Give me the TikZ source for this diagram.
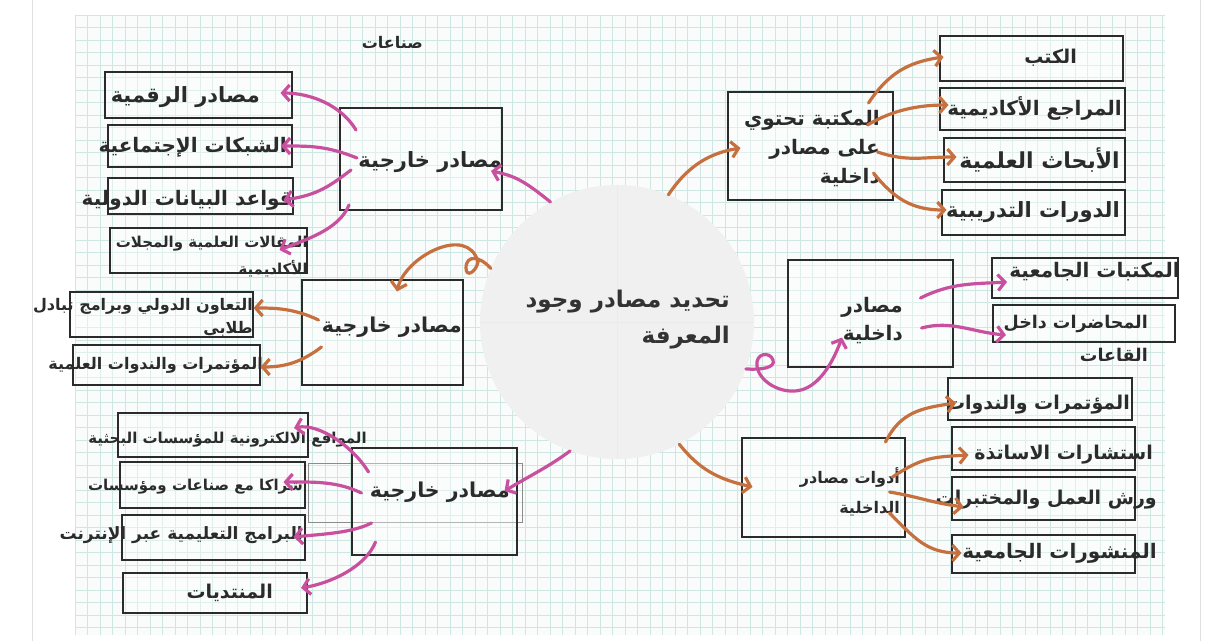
\documentclass[tikz,border=0pt]{standalone}
\usepackage{fontspec}
\TeXXeTstate=1
\newfontfamily\arabicfont[Script=Arabic]{DejaVu Sans}
\usetikzlibrary{arrows.meta,calc}
\definecolor{pinkc}{HTML}{C8509E}
\definecolor{orangec}{HTML}{C7703F}
\definecolor{gridc}{HTML}{CFE7E2}
\definecolor{inkc}{HTML}{2B2B2B}
\definecolor{circc}{HTML}{F0F0F0}
\newcommand{\ar}[1]{{\arabicfont\bfseries\beginR #1\endR}}
\newcommand{\fs}[2]{\fontsize{#1}{#2}\selectfont}
\tikzset{
  bx/.style={draw=inkc, line width=2pt, inner sep=0pt, fill=white, fill opacity=0.35, text opacity=1},
  tx/.style={inner sep=0pt, text=inkc, anchor=east, align=right, font=\fs{20}{24}},
  pk/.style={draw=pinkc, line width=3.2pt, line cap=round, -{Straight Barb[length=7pt,width=16pt]}},
  og/.style={draw=orangec, line width=3.2pt, line cap=round, -{Straight Barb[length=7pt,width=16pt]}},
}
\begin{document}
\begin{tikzpicture}[x=1pt,y=-1pt]
\useasboundingbox (0,0) rectangle (1206,641);
\fill[white] (0,0) rectangle (1206,641);
\draw[black!12, line width=1pt] (32,0) -- (32,641);
\draw[black!12, line width=1pt] (1200,0) -- (1200,641);
% grid paper
\fill[gridc!12] (75,15) rectangle (1165,635);
\foreach \i in {0,...,87} \draw[gridc, line width=0.6pt] (75+\i*12.5,15) -- (75+\i*12.5,635);
\foreach \j in {0,...,49} \draw[gridc, line width=0.6pt] (75,15+\j*12.5) -- (1165,15+\j*12.5);

% centre
\node[circle, fill=circc, minimum size=274pt, inner sep=0pt] (C) at (617,322) {};
\draw[black!8, line width=0.8pt] (C.north) -- (C.south);
\draw[black!8, line width=0.8pt] (C.west) -- (C.east);
\node[tx, font=\fs{23}{36}, text=black!80] (Ct) at (730,320) {\ar{تحديد مصادر وجود}\\\ar{المعرفة}};

% ---- top-left group
\node[bx, minimum width=162pt, minimum height=102pt] (tl) at (421,159) {};
\node[bx, minimum width=187pt, minimum height=46pt] (tl1) at (198,95) {};
\node[bx, minimum width=184pt, minimum height=42pt] (tl2) at (200,146) {};
\node[bx, minimum width=185pt, minimum height=36pt] (tl3) at (200,196) {};
\node[bx, minimum width=197pt, minimum height=45pt] (tl4) at (208,250) {};
\node[tx, font=\fs{21}{24}] (tlT) at (502,162) {\ar{مصادر خارجية}};
\node[tx, font=\fs{21}{24}] (tl1T) at (260,97) {\ar{مصادر الرقمية}};
\node[tx] (tl2T) at (287,147) {\ar{الشبكات الإجتماعية}};
\node[tx] (tl3T) at (293,200) {\ar{قواعد البيانات الدولية}};
\node[tx, font=\fs{15}{27}] (tl4T) at (308,257) {\ar{المقالات العلمية والمجلات}\\\ar{الأكاديمية}};
\node[tx, font=\fs{16}{18}] (topT) at (423,42) {\ar{صناعات}};

% ---- middle-left group
\node[bx, minimum width=161pt, minimum height=105pt] (ml) at (382,332) {};
\node[bx, minimum width=183pt, minimum height=45pt] (ml1) at (161,314) {};
\node[bx, minimum width=187pt, minimum height=40pt] (ml2) at (166,365) {};
\node[tx, font=\fs{20.5}{24}] (mlT) at (462,327) {\ar{مصادر خارجية}};
\node[tx, font=\fs{16}{23}] (ml1T) at (253,318) {\ar{التعاون الدولي وبرامج تبادل}\\\ar{طلابي}};
\node[tx, font=\fs{16}{19}] (ml2T) at (263,365) {\ar{المؤتمرات والندوات العلمية}};

% ---- bottom-left group
\draw[black!45, line width=0.8pt] (308,463) rectangle (522,522);
\node[bx, minimum width=165pt, minimum height=107pt] (bl) at (434,501) {};
\node[bx, minimum width=190pt, minimum height=44pt] (bl1) at (213,435) {};
\node[bx, minimum width=185pt, minimum height=46pt] (bl2) at (212,485) {};
\node[bx, minimum width=183pt, minimum height=45pt] (bl3) at (213,537) {};
\node[bx, minimum width=184pt, minimum height=40pt] (bl4) at (215,593) {};
\node[tx, font=\fs{20.5}{24}] (blT) at (510,492) {\ar{مصادر خارجية}};
\node[tx, font=\fs{15}{18}] (bl1T) at (367,440) {\ar{المواقع الالكترونية للمؤسسات البحثية}};
\node[tx, font=\fs{15}{18}] (bl2T) at (303,487) {\ar{شراكا مع صناعات ومؤسسات}};
\node[tx, font=\fs{17}{20}] (bl3T) at (303,535) {\ar{البرامج التعليمية عبر الإنترنت}};
\node[tx, font=\fs{19}{22}] (bl4T) at (273,593) {\ar{المنتديات}};

% ---- top-right group
\node[bx, minimum width=165pt, minimum height=108pt] (tr) at (810,146) {};
\node[bx, minimum width=183pt, minimum height=45pt] (tr1) at (1031,58) {};
\node[bx, minimum width=185pt, minimum height=42pt] (tr2) at (1032,109) {};
\node[bx, minimum width=181pt, minimum height=44pt] (tr3) at (1034,160) {};
\node[bx, minimum width=183pt, minimum height=45pt] (tr4) at (1033,212) {};
\node[tx, font=\fs{20}{29}] (trT) at (880,149) {\ar{المكتبة تحتوي}\\\ar{على مصادر}\\\ar{داخلية}};
\node[tx, font=\fs{19}{22}] (tr1T) at (1077,58) {\ar{الكتب}};
\node[tx] (tr2T) at (1122,108) {\ar{المراجع الأكاديمية}};
\node[tx, font=\fs{22}{25}] (tr3T) at (1120,160) {\ar{الأبحاث العلمية}};
\node[tx, font=\fs{21}{24}] (tr4T) at (1120,212) {\ar{الدورات التدريبية}};

% ---- middle-right group
\node[bx, minimum width=165pt, minimum height=107pt] (mr) at (870,313) {};
\node[bx, minimum width=186pt, minimum height=40pt] (mr1) at (1085,278) {};
\node[bx, minimum width=182pt, minimum height=37pt] (mr2) at (1084,323) {};
\node[tx, font=\fs{20}{28}] (mrT) at (903,321) {\ar{مصادر}\\\ar{داخلية}};
\node[tx] (mr1T) at (1180,272) {\ar{المكتبات الجامعية}};
\node[tx, font=\fs{17.5}{33}] (mr2T) at (1148,338) {\ar{المحاضرات داخل}\\\ar{القاعات}};

% ---- bottom-right group
\node[bx, minimum width=163pt, minimum height=99pt] (br) at (823,487) {};
\node[bx, minimum width=184pt, minimum height=42pt] (br1) at (1040,399) {};
\node[bx, minimum width=183pt, minimum height=43pt] (br2) at (1043,448) {};
\node[bx, minimum width=183pt, minimum height=43pt] (br3) at (1043,498) {};
\node[bx, minimum width=183pt, minimum height=38pt] (br4) at (1043,554) {};
\node[tx, font=\fs{16}{30}] (brT) at (900,492) {\ar{أدوات مصادر}\\\ar{الداخلية}};
\node[tx, font=\fs{19}{22}] (br1T) at (1130,405) {\ar{المؤتمرات والندوات}};
\node[tx, font=\fs{19}{22}] (br2T) at (1153,455) {\ar{استشارات الاساتذة}};
\node[tx, font=\fs{19}{22}] (br3T) at (1157,500) {\ar{ورش العمل والمختبرات}};
\node[tx] (br4T) at (1157,553) {\ar{المنشورات الجامعية}};

% ---- connectors: centre to hubs
\draw[pk] (C.119) .. controls +(-25,-20) and +(25,5) .. ($(tl.east)+(-12,12)$);
\draw[og] (C.157) .. controls +(-10,-12) and +(0,-14) .. (466,268)
   .. controls +(0,10) and +(-2,10) .. (478,262)
   .. controls +(-10,-38) and +(8,-35) .. ($(ml.north)+(15,13)$);
\draw[pk] (C.250) .. controls +(-20,15) and +(25,-15) .. ($(bl.east)+(-13,-10)$);
\draw[og] (C.68) .. controls +(20,-30) and +(-30,5) .. ($(tr.west)+(14,2)$);
\draw[pk] (C.-20) .. controls (760,370) and (776,368) .. (773,360)
   .. controls (770,351) and (755,353) .. (757,366)
   .. controls (759,382) and (782,395) .. (801,390)
   .. controls (820,385) and (833,362) .. ($(mr.south)+(-28,-30)$);
\draw[og] (C.-63) .. controls +(20,25) and +(-35,-8) .. ($(br.west)+(12,0)$);

% ---- hubs to leaves
\draw[pk] ($(tl.west)+(17,-29)$) .. controls +(-15,-25) and +(30,0) .. ($(tl1.east)+(-12,-2)$);
\draw[pk] ($(tl.west)+(18,-1)$) .. controls +(-30,-12) and +(30,0) .. ($(tl2.east)+(-12,0)$);
\draw[pk] ($(tl.west)+(12,11)$) .. controls +(-20,15) and +(35,-5) .. ($(tl3.east)+(-10,4)$);
\draw[pk] ($(tl.west)+(10,46)$) .. controls +(-10,25) and +(25,-10) .. ($(tl4.east)+(-28,0)$);

\draw[og] ($(ml.west)+(18,-12)$) .. controls +(-25,-12) and +(20,0) .. ($(ml1.east)+(0,-6)$);
\draw[og] ($(ml.west)+(21,15)$) .. controls +(-20,15) and +(25,0) .. ($(ml2.east)+(0,2)$);

\draw[pk] ($(bl.west)+(18,-29)$) .. controls +(-15,-25) and +(25,-5) .. ($(bl1.east)+(-15,-7)$);
\draw[pk] ($(bl.west)+(11,-8)$) .. controls +(-25,-12) and +(30,0) .. ($(bl2.east)+(-22,-3)$);
\draw[pk] ($(bl.west)+(21,22)$) .. controls +(-20,10) and +(30,-3) .. ($(bl3.east)+(-12,0)$);
\draw[pk] ($(bl.west)+(25,41)$) .. controls +(-10,25) and +(30,-5) .. ($(bl4.east)+(-7,-5)$);

\draw[og] ($(tr.east)+(-25,-43)$) .. controls +(20,-30) and +(-35,5) .. ($(tr1.west)+(5,-1)$);
\draw[og] ($(tr.east)+(-26,-21)$) .. controls +(25,-15) and +(-30,0) .. ($(tr2.west)+(10,-4)$);
\draw[og] ($(tr.east)+(-16,6)$) .. controls +(30,10) and +(-35,0) .. ($(tr3.west)+(14,-3)$);
\draw[og] ($(tr.east)+(-20,27)$) .. controls +(20,25) and +(-35,0) .. ($(tr4.west)+(6,-2)$);

\draw[pk] ($(mr.east)+(-33,-15)$) .. controls +(30,-15) and +(-35,2) .. ($(mr1.west)+(16,4)$);
\draw[pk] ($(mr.east)+(-32,15)$) .. controls +(30,-8) and +(-35,-3) .. ($(mr2.west)+(14,12)$);

\draw[og] ($(br.east)+(-20,-45)$) .. controls +(15,-30) and +(-35,5) .. ($(br1.west)+(9,4)$);
\draw[og] ($(br.east)+(-13,-10)$) .. controls +(30,-20) and +(-35,2) .. ($(br2.west)+(18,7)$);
\draw[og] ($(br.east)+(-16,5)$) .. controls +(30,5) and +(-35,-5) .. ($(br3.west)+(13,9)$);
\draw[og] ($(br.east)+(-16,26)$) .. controls +(25,25) and +(-35,0) .. ($(br4.west)+(11,-1)$);
\end{tikzpicture}
\end{document}
